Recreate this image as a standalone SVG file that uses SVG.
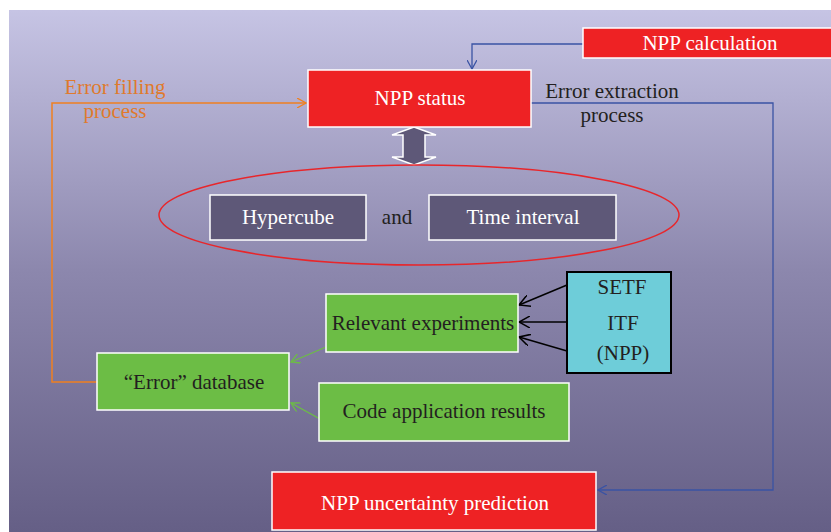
<svg xmlns="http://www.w3.org/2000/svg" width="831" height="532" viewBox="0 0 831 532">
<defs>
<linearGradient id="bg" x1="0" y1="0" x2="0" y2="1">
<stop offset="0" stop-color="#c6c4e4"/>
<stop offset="0.5" stop-color="#8c87ad"/>
<stop offset="1" stop-color="#655f86"/>
</linearGradient>
<marker id="ab" viewBox="0 0 10 10" refX="9" refY="5" markerWidth="10" markerHeight="10" markerUnits="userSpaceOnUse" orient="auto"><path d="M0,0 L9,5 L0,10" fill="none" stroke="#3a53a4" stroke-width="1.3"/></marker>
<marker id="ao" viewBox="0 0 10 10" refX="9" refY="5" markerWidth="10" markerHeight="10" markerUnits="userSpaceOnUse" orient="auto"><path d="M0,0 L9,5 L0,10" fill="none" stroke="#f08020" stroke-width="1.3"/></marker>
<marker id="ak" viewBox="0 0 12 12" refX="11" refY="6" markerWidth="12" markerHeight="12" markerUnits="userSpaceOnUse" orient="auto"><path d="M0,0 L11,6 L0,12" fill="none" stroke="#000" stroke-width="1.5"/></marker>
<marker id="ag" viewBox="0 0 10 10" refX="9" refY="5" markerWidth="10" markerHeight="10" markerUnits="userSpaceOnUse" orient="auto"><path d="M0,0 L9,5 L0,10" fill="none" stroke="#6cbd45" stroke-width="1.3"/></marker>
</defs>
<style>
text{font-family:"Liberation Serif","DejaVu Serif",serif;text-anchor:middle;dominant-baseline:central}
.red{fill:#ee2224;stroke:#fff;stroke-width:1.5}
.grn{fill:#6cbd45;stroke:#fff;stroke-width:1.5}
.pur{fill:#5e5878;stroke:#fff;stroke-width:1.5}
.wt{fill:#fff;font-size:21px}
.dk{fill:#231f20;font-size:21px}
</style>
<rect x="0" y="0" width="831" height="532" fill="#fff"/>
<rect x="9" y="10" width="822" height="522" fill="url(#bg)"/>
<g id="connectors" fill="none">
<path d="M583,44 H472 V69" stroke="#3a53a4" stroke-width="1.3" marker-end="url(#ab)"/>
<path d="M531,103 H773 V490 H598" stroke="#3a53a4" stroke-width="1.3" marker-end="url(#ab)"/>
<path d="M97,382 H52 V103 H306" stroke="#f08020" stroke-width="1.5" marker-end="url(#ao)"/>
<path d="M567,285 L519,305" stroke="#000" stroke-width="1.5" marker-end="url(#ak)"/>
<path d="M567,322 L519,322" stroke="#000" stroke-width="1.5" marker-end="url(#ak)"/>
<path d="M567,351 L519,337" stroke="#000" stroke-width="1.5" marker-end="url(#ak)"/>
<path d="M326,347 L291,362" stroke="#6cbd45" stroke-width="1.3" marker-end="url(#ag)"/>
<path d="M320,419 L291,403" stroke="#6cbd45" stroke-width="1.3" marker-end="url(#ag)"/>
<path d="M414,127 L436,135 H425 V157 H436 L414,165 L392,157 H403 V135 H392 Z" fill="#5e5878" stroke="#fff" stroke-width="1.5"/>
</g>
<g id="npp-calculation"><rect class="red" x="583" y="28" width="252" height="30"/><text class="wt" x="710" y="43">NPP calculation</text></g>
<g id="npp-status"><rect class="red" x="308" y="70" width="223" height="57"/><text class="wt" x="420" y="98">NPP status</text></g>
<g id="error-filling-label"><text x="115" y="87" fill="#e07a2c" font-size="21">Error filling</text><text x="115" y="111" fill="#e07a2c" font-size="21">process</text></g>
<g id="error-extraction-label"><text class="dk" x="612" y="91">Error extraction</text><text class="dk" x="612" y="115">process</text></g>
<g id="scope"><ellipse cx="419" cy="215" rx="260" ry="50" fill="none" stroke="#e8262b" stroke-width="1.5"/>
<g id="hypercube"><rect class="pur" x="210" y="195" width="156" height="45"/><text class="wt" x="288" y="217">Hypercube</text></g>
<text class="dk" x="397" y="217">and</text>
<g id="time-interval"><rect class="pur" x="429" y="195" width="187" height="45"/><text class="wt" x="523" y="217">Time interval</text></g>
</g>
<g id="relevant-experiments"><rect class="grn" x="326" y="294" width="192" height="58"/><text class="dk" x="423" y="323">Relevant experiments</text></g>
<g id="setf-itf"><rect x="567" y="272" width="104" height="101" fill="#6ecdd9" stroke="#000" stroke-width="2"/><text class="dk" x="622" y="287">SETF</text><text class="dk" x="623" y="323">ITF</text><text class="dk" x="623" y="353">(NPP)</text></g>
<g id="code-application-results"><rect class="grn" x="319" y="383" width="250" height="58"/><text class="dk" x="444" y="411">Code application results</text></g>
<g id="error-database"><rect class="grn" x="97" y="353" width="192" height="57"/><text class="dk" x="194" y="382">“Error” database</text></g>
<g id="npp-uncertainty-prediction"><rect class="red" x="272" y="472" width="324" height="58"/><text class="wt" x="435" y="503">NPP uncertainty prediction</text></g>
</svg>
